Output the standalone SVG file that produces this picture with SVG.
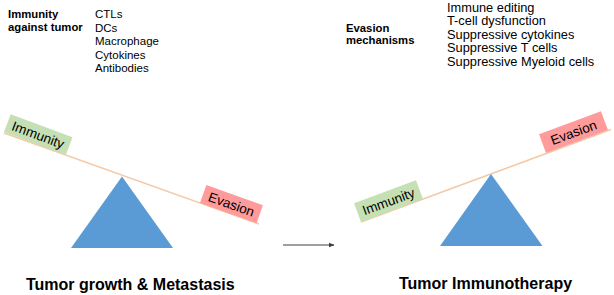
<svg xmlns="http://www.w3.org/2000/svg" width="614" height="295" viewBox="0 0 614 295">
<defs>
<style>
text{font-family:"Liberation Sans",Arial,sans-serif;fill:#000}
.hd{font-weight:bold;font-size:11.3px}
.ls{font-size:11.5px}
.rs{font-size:12.8px}
.ttl{font-weight:bold;font-size:16px}
.lbl{font-size:13.5px;text-anchor:middle}
.tri{fill:#5b9bd5}
.beam{stroke:#f4c9a8;stroke-width:1.5;fill:none}
.imm{fill:#c5e0b4}
.eva{fill:#ff9b9b}
</style>
<marker id="ah" viewBox="0 0 10 10" refX="9" refY="5" markerWidth="6" markerHeight="6" orient="auto" markerUnits="userSpaceOnUse">
<path d="M0,1 L10,5 L0,9 z" fill="#404040"/>
</marker>
</defs>
<rect width="614" height="295" fill="#fff"/>

<g id="left-header">
<text class="hd" x="8" y="17.5">Immunity</text>
<text class="hd" x="8" y="31">against tumor</text>
<text class="ls" x="95" y="18">CTLs</text>
<text class="ls" x="95" y="31.5">DCs</text>
<text class="ls" x="95" y="45">Macrophage</text>
<text class="ls" x="95" y="58.5">Cytokines</text>
<text class="ls" x="95" y="72">Antibodies</text>
</g>

<g id="right-header">
<text class="hd" x="346" y="31.5">Evasion</text>
<text class="hd" x="346" y="44">mechanisms</text>
<text class="rs" x="447" y="11.5">Immune editing</text>
<text class="rs" x="447" y="25">T-cell dysfunction</text>
<text class="rs" x="447" y="38.5">Suppressive cytokines</text>
<text class="rs" x="447" y="52">Suppressive T cells</text>
<text class="rs" x="447" y="65.5">Suppressive Myeloid cells</text>
</g>

<g id="connectors">
<line class="beam" x1="4" y1="133" x2="259" y2="224"/>
<line class="beam" x1="361" y1="222" x2="611" y2="129.5"/>
<line x1="283" y1="245" x2="334" y2="245" stroke="#404040" stroke-width="1.2" marker-end="url(#ah)"/>
</g>

<g id="left-fulcrum">
<polygon class="tri" points="122,176.5 71,248 173,248"/>
</g>
<g id="right-fulcrum">
<polygon class="tri" points="491,174 440,246 542.5,246"/>
</g>

<g id="left-immunity" transform="translate(4,132) rotate(20.5)">
<rect class="imm" x="0" y="-19" width="66" height="19"/>
<text class="lbl" x="33" y="-4.5">Immunity</text>
</g>
<g id="left-evasion" transform="translate(200,203) rotate(19.6)">
<rect class="eva" x="0" y="-19" width="60" height="19"/>
<text class="lbl" x="30" y="-4.5">Evasion</text>
</g>
<g id="right-immunity" transform="translate(361,222) rotate(-20.3)">
<rect class="imm" x="0" y="-20" width="66" height="20"/>
<text class="lbl" x="33" y="-5">Immunity</text>
</g>
<g id="right-evasion" transform="translate(546,153) rotate(-20.3)">
<rect class="eva" x="0" y="-20" width="66" height="20"/>
<text class="lbl" x="33" y="-5">Evasion</text>
</g>

<g id="titles">
<text class="ttl" x="26" y="290">Tumor growth &amp; Metastasis</text>
<text class="ttl" x="399" y="289">Tumor Immunotherapy</text>
</g>
</svg>
